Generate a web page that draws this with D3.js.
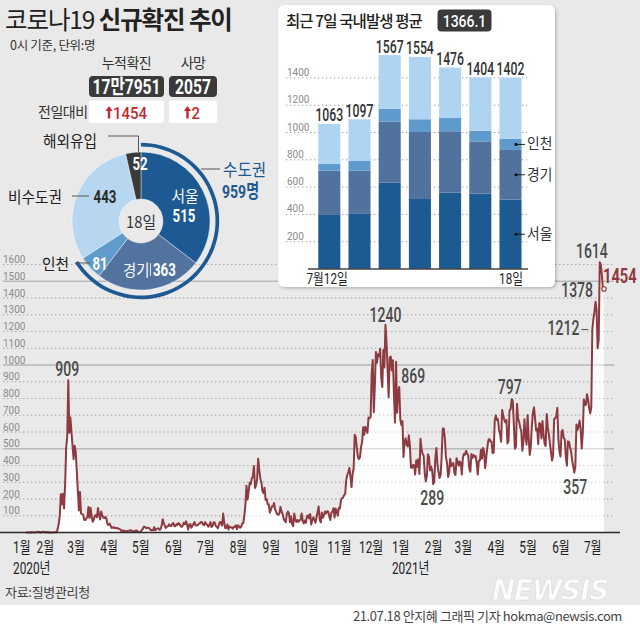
<!DOCTYPE html>
<html><head><meta charset="utf-8">
<script src="https://cdn.jsdelivr.net/npm/d3@7"></script>
<style>
html,body{margin:0;padding:0;background:#fff;}
svg{display:block;}
text{font-family:'Noto Sans CJK KR','Noto Sans',sans-serif;}
</style></head><body>
<svg id="c" width="640" height="628"></svg>
<script>
// ================= DATA =================
// daily new confirmed cases (0시 기준), one array per month
const cases2020Jan = [1,0,0,0,1,0,1,1,0,0,2,5];
const cases2020Feb = [1,3,0,1,3,5,1,0,3,0,1,0,0,0,0,1,1,1,20,53,100,229,169,231,144,284,505,571,909];
const cases2020Mar = [595,686,600,516,438,518,483,367,248,131,242,114,110,107,76,74,84,93,152,87,147,98,64,76,100,104,91,146,105,78,125];
const cases2020Apr = [101,89,86,94,81,47,47,53,39,27,30,32,25,27,27,22,22,18,8,13,9,11,8,6,10,10,10,14,9,4];
const cases2020May = [9,6,13,8,3,2,4,12,18,34,35,27,26,29,27,19,13,15,13,32,12,20,23,25,16,19,40,79,58,39,27];
const cases2020Jun = [35,38,49,39,39,51,57,38,38,50,45,56,49,37,34,43,59,49,67,48,17,46,51,28,39,51,62,42,42,43];
const cases2020Jul = [51,54,63,61,48,44,62,50,45,35,44,62,33,39,61,60,39,34,26,45,63,59,41,113,58,25,28,48,18,36,31];
const cases2020Aug = [30,23,34,33,43,20,43,36,28,34,54,56,103,166,279,197,246,297,288,324,332,397,266,280,320,441,371,323,299,248,235];
const cases2020Sep = [267,195,198,168,167,119,136,156,155,176,136,121,109,106,113,153,126,110,82,70,61,110,125,114,61,95,50,38,113,77];
const cases2020Oct = [63,75,64,73,75,114,69,54,72,58,98,102,84,110,47,73,91,76,58,91,121,155,77,61,119,88,103,125,114,127,124];
const cases2020Nov = [97,75,118,125,145,89,143,126,100,146,143,191,205,208,223,230,313,343,363,386,330,271,349,382,583,569,504,450,438,451];
const cases2020Dec = [511,540,629,583,631,615,594,686,682,689,950,1030,718,880,1078,1014,1064,1053,1097,926,869,1090,985,1240,1132,970,807,1045,1050,967,1029];
const cases2021Jan = [824,657,1020,715,840,869,674,641,665,451,537,562,524,513,580,520,389,386,404,401,346,431,392,437,349,559,497,469,458,355,305];
const cases2021Feb = [336,467,451,370,393,372,289,303,444,504,403,362,326,344,457,621,621,561,448,416,332,357,440,396,406,415,355,344];
const cases2021Mar = [444,424,398,424,416,346,446,470,465,488,470,459,382,363,469,445,463,452,456,415,346,428,430,494,441,505,482,384,447,506,551];
const cases2021Apr = [558,543,543,473,478,668,700,671,677,614,587,542,731,698,673,658,672,532,549,731,735,797,785,644,500,512,769,680,661,627];
const cases2021May = [606,488,541,676,574,525,701,564,463,511,635,715,747,681,610,619,528,654,646,561,666,585,530,516,707,629,587,533,480,430,459];
const cases2021Jun = [677,681,695,744,556,485,454,602,611,565,556,452,399,545,540,507,482,429,395,357,394,645,610,634,668,614,501,595,794,761];
const cases2021Jul = [762,826,794,743,711,746,1212,1275,1316,1378,1324,1100,1150,1614,1600,1536,1452,1454];

const monthBlocks = [
  [2020,1,20,cases2020Jan],[2020,2,1,cases2020Feb],[2020,3,1,cases2020Mar],[2020,4,1,cases2020Apr],
  [2020,5,1,cases2020May],[2020,6,1,cases2020Jun],[2020,7,1,cases2020Jul],[2020,8,1,cases2020Aug],
  [2020,9,1,cases2020Sep],[2020,10,1,cases2020Oct],[2020,11,1,cases2020Nov],[2020,12,1,cases2020Dec],
  [2021,1,1,cases2021Jan],[2021,2,1,cases2021Feb],[2021,3,1,cases2021Mar],[2021,4,1,cases2021Apr],
  [2021,5,1,cases2021May],[2021,6,1,cases2021Jun],[2021,7,1,cases2021Jul]
];

const peakLabelDates  = ['2020-02-29','2020-12-24','2021-01-06','2021-02-07','2021-04-22','2021-06-20','2021-07-07','2021-07-10','2021-07-14','2021-07-18'];
const peakLabelValues = [909,1240,869,289,797,357,1212,1378,1614,1454];

const yTickValues = [100,200,300,400,500,600,700,800,900,1000,1100,1200,1300,1400,1500,1600];
const monthTickDates = ['2020-01','2020-02','2020-03','2020-04','2020-05','2020-06','2020-07','2020-08','2020-09','2020-10','2020-11','2020-12','2021-01','2021-02','2021-03','2021-04','2021-05','2021-06','2021-07'];
const monthTickLabels = ['1월','2월','3월','4월','5월','6월','7월','8월','9월','10월','11월','12월','1월','2월','3월','4월','5월','6월','7월'];
const yearLabels = ['2020년','2021년'];

// header stats
const statTitles = ['누적확진','사망'];
const statValues = ['17만7951','2057'];
const statDeltas = ['1454','2'];

// donut (18일)
const regionNames  = ['서울','경기','인천','비수도권','해외유입'];
const regionValues = [515,363,81,443,52];
const capitalTotal = 959;

// inset: 최근 7일 국내발생
const barDays      = ['12','13','14','15','16','17','18'];
const barSeoul     = [396,408,632,513,559,552,509];
const barGyeonggi  = [324,312,447,491,450,383,363];
const barIncheon   = [49,71,95,93,97,78,81];
const barTotals    = [1063,1097,1567,1554,1476,1404,1402];
const barYTicks    = [200,400,600,800,1000,1200,1400];
const weeklyAverage = '1366.1';

// ================= DRAW =================
const NUM = "Roboto, 'Noto Sans CJK KR', sans-serif";
const KR = "'Noto Sans CJK KR', 'Noto Sans', sans-serif";
const svg = d3.select('#c');

function txt(g, o){
  return g.append('text')
    .attr('transform', `translate(${o.x},${o.y}) scale(${o.sx||1},1)`)
    .attr('text-anchor', o.anchor||'start')
    .style('font-family', o.font||KR)
    .style('font-size', o.size+'px')
    .style('font-weight', o.weight||400)
    .style('letter-spacing', o.ls!=null ? o.ls+'px' : null)
    .style('font-style', o.italic ? 'italic' : null)
    .attr('fill', o.fill||'#333')
    .text(o.text);
}

const defs = svg.append('defs');
const sh = defs.append('filter').attr('id','shadow').attr('x','-5%').attr('y','-5%').attr('width','115%').attr('height','115%');
sh.append('feDropShadow').attr('dx',1.5).attr('dy',1.5).attr('stdDeviation',1.5).attr('flood-color','#000').attr('flood-opacity',0.22);
const ag = defs.append('linearGradient').attr('id','areaGrad').attr('gradientUnits','userSpaceOnUse')
  .attr('x1',0).attr('x2',0).attr('y1',262).attr('y2',532);
ag.append('stop').attr('offset',0).attr('stop-color','#fff').attr('stop-opacity',0.75);
ag.append('stop').attr('offset',1).attr('stop-color','#fff').attr('stop-opacity',1);

// background
svg.append('rect').attr('width',640).attr('height',605).attr('fill','#e9e9e9');
svg.append('rect').attr('y',605).attr('width',640).attr('height',23).attr('fill','#fff');

// ---- main time series ----
const series = [];
monthBlocks.forEach(([yy,mm,d0,arr]) => arr.forEach((v,i) => series.push({date:new Date(Date.UTC(yy,mm-1,d0+i)), value:v})));

const x = d3.scaleUtc().domain([new Date(Date.UTC(2020,0,1)), new Date(Date.UTC(2021,6,18))]).range([5.7,604]);
const y = d3.scaleLinear().domain([0,1600]).range([532.5,264.5]);

const grid = svg.append('g');
yTickValues.forEach(v => {
  const solid = v % 500 === 0;
  grid.append('line').attr('x1',3).attr('x2',614).attr('y1',y(v)).attr('y2',y(v))
    .attr('stroke', solid ? '#a8a8a8' : '#a0a0a0').attr('stroke-width',1)
    .attr('stroke-dasharray', solid ? null : '1.3,2.7');
  txt(grid,{x:3,y:y(v)-1.5,text:v,size:10.5,font:NUM,fill:'#8a8a8a',sx:0.95});
});

svg.append('path').datum(series)
  .attr('d', d3.area().x(d=>x(d.date)).y0(y(0)).y1(d=>y(d.value)))
  .attr('fill','url(#areaGrad)');
yTickValues.forEach(v => {
  const solid = v % 500 === 0;
  svg.append('line').attr('x1',3).attr('x2',614).attr('y1',y(v)).attr('y2',y(v))
    .attr('stroke', '#b8b8b8').attr('stroke-width',1).attr('stroke-opacity',0.6)
    .attr('stroke-dasharray', solid ? null : '1.3,2.7');
});
svg.append('path').datum(series)
  .attr('d', d3.line().x(d=>x(d.date)).y(d=>y(d.value)))
  .attr('fill','none').attr('stroke','#8d3b41').attr('stroke-width',2).attr('stroke-linejoin','round');
const last = series[series.length-1];
svg.append('circle').attr('cx',x(last.date)).attr('cy',y(last.value)).attr('r',2.2)
  .attr('fill','#f4f4f4').attr('stroke','#8d3b41').attr('stroke-width',1.2);

// axis baseline
svg.append('line').attr('x1',0).attr('x2',620).attr('y1',y(0)).attr('y2',y(0)).attr('stroke','#2b2b2b').attr('stroke-width',1.5);

// month labels
const parseMonth = d3.utcParse('%Y-%m');
const monthXs = monthTickDates.map(d => Math.max(x(parseMonth(d)) - 2, 13));
monthTickLabels.forEach((lab,i) => txt(svg,{x:monthXs[i],y:553,text:lab,size:16,font:NUM,fill:'#222',sx:0.74}));
txt(svg,{x:monthXs[0],y:573.5,text:yearLabels[0],size:16,font:NUM,fill:'#222',sx:0.74});
txt(svg,{x:monthXs[12],y:573.5,text:yearLabels[1],size:16,font:NUM,fill:'#222',sx:0.74});

// peak labels
const parseDay = d3.utcParse('%Y-%m-%d');
const peakLayout = [
  {dx:-1,dy:-4,a:'middle'},{dx:0,dy:-3,a:'middle'},{dx:2,dy:-4,a:'start'},{dx:-1,dy:21,a:'middle'},
  {dx:-2,dy:-5,a:'middle'},{dx:1,dy:21,a:'middle'},{dx:-13,dy:5.5,a:'end',dash:true},
  {dx:-2.5,dy:-4.5,a:'end'},{dx:8,dy:-4,a:'end'},{dx:-1,dy:-6,a:'start',hi:true}
];
peakLabelDates.forEach((d,i) => {
  const px = x(parseDay(d)), py = y(peakLabelValues[i]), L = peakLayout[i];
  if (L.dash) svg.append('line').attr('x1',px-11).attr('x2',px-4).attr('y1',py).attr('y2',py).attr('stroke','#555').attr('stroke-width',1);
  txt(svg,{x:px+L.dx,y:py+L.dy,text:peakLabelValues[i],size:L.hi?21:20,font:NUM,weight:L.hi?700:500,
    fill:L.hi?'#8d3b41':'#4a4a4a',anchor:L.a,sx:0.7});
});

// ---- donut ----
const pieColors = ['#1d5a93','#53739f','#5f9bcc','#b7d7f1','#3a3a3a'];
const pg = svg.append('g').attr('transform','translate(141,221)');
const arcs = d3.pie().sort(null).value(d=>d)(regionValues);
pg.selectAll('path.s').data(arcs).join('path').attr('class','s')
  .attr('d', d3.arc().innerRadius(22).outerRadius(69))
  .attr('fill',(d,i)=>pieColors[i]).attr('stroke','#fff').attr('stroke-width',0.4);
pg.append('path').attr('d', d3.arc().innerRadius(74.5).outerRadius(78.2).startAngle(0).endAngle(arcs[2].endAngle)())
  .attr('fill','#1d5a93');
txt(pg,{x:0,y:7,text:'18일',size:16,fill:'#333',anchor:'middle',sx:0.92});
txt(pg,{x:44,y:-19,text:regionNames[0],size:16,fill:'#fff',anchor:'middle',sx:0.92});
txt(pg,{x:43,y:1,text:regionValues[0],size:19,font:NUM,weight:700,fill:'#fff',anchor:'middle',sx:0.7});
txt(pg,{x:-18,y:55,text:regionNames[1],size:16,fill:'#fff',sx:0.9});
pg.append('line').attr('x1',9.5).attr('x2',9.5).attr('y1',42).attr('y2',55).attr('stroke','#fff').attr('stroke-width',0.8);
txt(pg,{x:12,y:55,text:regionValues[1],size:19,font:NUM,weight:700,fill:'#fff',sx:0.7});
txt(pg,{x:-41,y:49,text:regionValues[2],size:19,font:NUM,weight:700,fill:'#fff',anchor:'middle',sx:0.7});
txt(pg,{x:-1,y:-51,text:regionValues[4],size:19,font:NUM,weight:700,fill:'#fff',anchor:'middle',sx:0.7});
// outside labels
txt(svg,{x:42,y:270,text:regionNames[2],size:16,fill:'#222',sx:0.92});
svg.append('line').attr('x1',75).attr('x2',90).attr('y1',263).attr('y2',263).attr('stroke','#555');
txt(svg,{x:8,y:203,text:regionNames[3],size:16,fill:'#222',sx:0.92});
svg.append('line').attr('x1',72).attr('x2',89).attr('y1',196).attr('y2',196).attr('stroke','#555');
txt(svg,{x:105,y:203,text:regionValues[3],size:19,font:NUM,weight:700,fill:'#2a2a2a',anchor:'middle',sx:0.7});
txt(svg,{x:43,y:147,text:regionNames[4],size:16,fill:'#222',sx:0.92});
svg.append('path').attr('d','M108,136H138.5V152').attr('fill','none').attr('stroke','#555');
svg.append('line').attr('x1',201).attr('x2',220).attr('y1',169).attr('y2',169).attr('stroke','#555');
txt(svg,{x:223,y:176,text:'수도권',size:17,fill:'#1d5a93',sx:0.92});
txt(svg,{x:222,y:198,text:capitalTotal+'명',size:19,font:NUM,weight:700,fill:'#1d5a93',sx:0.74});

// ---- header ----
const title = svg.append('text').attr('x',5).attr('y',28.5).style('font-size','24.5px').style('letter-spacing','-1.1px').attr('fill','#222');
title.append('tspan').style('font-weight',400).text('코로나19 ');
title.append('tspan').style('font-weight',700).text('신규확진 추이');
txt(svg,{x:10,y:50,text:'0시 기준, 단위:명',size:12.5,fill:'#333',ls:-0.3});
const boxX = [89,169], boxW = [75,48];
const arrowX = [109,187.5];
statTitles.forEach((t,i) => {
  const cx = boxX[i]+boxW[i]/2;
  txt(svg,{x:cx,y:68,text:t,size:14,fill:'#333',anchor:'middle',ls:-0.5});
  svg.append('rect').attr('x',boxX[i]).attr('y',76).attr('width',boxW[i]).attr('height',21).attr('rx',4).attr('fill','#3a3a3a');
  txt(svg,{x:cx,y:93.5,text:statValues[i],size:20,font:NUM,weight:700,fill:'#fff',anchor:'middle',sx:0.78});
  svg.append('rect').attr('x',boxX[i]).attr('y',100.5).attr('width',boxW[i]).attr('height',22.5).attr('rx',3).attr('fill','#fff');
  const ax = arrowX[i], base = 118.5;
  svg.append('path').attr('d',`M${ax-3.6},${base-7.5}L${ax},${base-12.5}L${ax+3.6},${base-7.5}Z`).attr('fill','#c1272d');
  svg.append('rect').attr('x',ax-1.2).attr('y',base-8).attr('width',2.4).attr('height',8).attr('fill','#c1272d');
  txt(svg,{x:ax+4,y:base,text:statDeltas[i],size:17,font:NUM,weight:500,fill:'#c1272d',sx:0.88});
});
txt(svg,{x:38,y:117,text:'전일대비',size:14,fill:'#333',ls:-0.5});

// ---- inset bar chart ----
const ig = svg.append('g');
ig.append('rect').attr('x',278).attr('y',5).attr('width',277).attr('height',282).attr('rx',6).attr('fill','#fff').attr('filter','url(#shadow)');
txt(ig,{x:286,y:26.5,text:'최근 7일 국내발생 평균',size:15.5,weight:500,fill:'#222',ls:-0.9});
ig.append('rect').attr('x',437.5).attr('y',9.5).attr('width',54).attr('height',22).attr('rx',4).attr('fill','#3a3a3a');
txt(ig,{x:464.5,y:27,text:weeklyAverage,size:17,font:NUM,weight:500,fill:'#fff',anchor:'middle',sx:0.82});

const bx = d3.scaleBand().domain(barDays).range([314.2,525.6]).paddingInner(0.27).paddingOuter(0.135);
const by = d3.scaleLinear().domain([0,1400]).range([269,77.9]);
barYTicks.forEach(v => {
  ig.append('line').attr('x1',286).attr('x2',527).attr('y1',by(v)).attr('y2',by(v))
    .attr('stroke','#9a9a9a').attr('stroke-dasharray','1.3,2.7');
  txt(ig,{x:287,y:by(v)-2,text:v,size:10.5,font:NUM,fill:'#8a8a8a',sx:0.95});
});
const barColors = ['#1c5a92','#52729e','#5e9acb','#aed4f2'];
const barRows = barDays.map((d,i) => {
  const rest = barTotals[i]-barSeoul[i]-barGyeonggi[i]-barIncheon[i];
  return {day:d, Seoul:barSeoul[i], Gyeonggi:barGyeonggi[i], Incheon:barIncheon[i], Rest:rest};
});
const stacked = d3.stack().keys(['Seoul','Gyeonggi','Incheon','Rest'])(barRows);
stacked.forEach((layer,k) => {
  ig.selectAll(null).data(layer).join('rect')
    .attr('x',d=>bx(d.data.day)).attr('width',bx.bandwidth())
    .attr('y',d=>by(d[1])).attr('height',d=>by(d[0])-by(d[1]))
    .attr('fill',barColors[k]);
});
barDays.forEach((d,i) => txt(ig,{x:bx(d)+bx.bandwidth()/2,y:by(barTotals[i])-2.5,text:barTotals[i],size:18,font:NUM,weight:500,fill:'#333',anchor:'middle',sx:0.68}));
ig.append('line').attr('x1',308).attr('x2',528).attr('y1',269).attr('y2',269).attr('stroke','#444').attr('stroke-width',1.5);
txt(ig,{x:306.5,y:284,text:'7월'+barDays[0]+'일',size:15,font:NUM,fill:'#222',sx:0.78});
txt(ig,{x:523,y:284,text:barDays[6]+'일',size:15,font:NUM,fill:'#222',anchor:'end',sx:0.78});
const lastIdx = barDays.length-1;
const segLabels = [['Seoul','서울'],['Gyeonggi','경기'],['Incheon','인천']];
segLabels.forEach(([k,lab]) => {
  const layer = stacked.find(s=>s.key===k)[lastIdx];
  const ym = (by(layer[0])+by(layer[1]))/2;
  ig.append('circle').attr('cx',516).attr('cy',ym).attr('r',1.6).attr('fill','#111');
  ig.append('line').attr('x1',516).attr('x2',525).attr('y1',ym).attr('y2',ym).attr('stroke','#111').attr('stroke-width',0.9);
  txt(ig,{x:527,y:ym+5,text:lab,size:14.5,fill:'#333',sx:0.95});
});

// ---- footer ----
txt(svg,{x:5,y:597,text:'자료:질병관리청',size:13,fill:'#444',ls:-0.3});
txt(svg,{x:492,y:600,text:'NEWSIS',size:29,font:"'DejaVu Sans', sans-serif",weight:700,italic:true,fill:'#ffffff',sx:0.95,ls:-1})
  .attr('stroke','#d6d6d6').attr('stroke-width',0.6).attr('opacity',0.9);
txt(svg,{x:622,y:621,text:'21.07.18 안지혜 그래픽 기자 hokma@newsis.com',size:13,fill:'#444',anchor:'end',ls:-0.4});
</script></body></html>
